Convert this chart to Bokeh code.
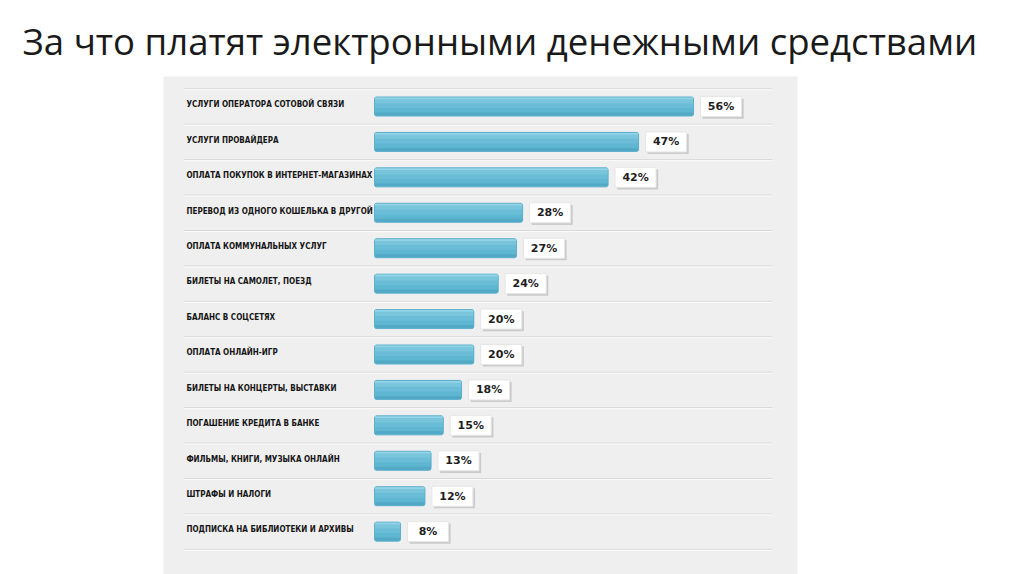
from bokeh.plotting import figure
from bokeh.models import ColumnDataSource, Range1d
from bokeh.transform import dodge
from bokeh.core.properties import value
from bokeh.embed import file_html
from bokeh.resources import INLINE

title_text = "За что платят электронными денежными средствами"

categories = [
    "УСЛУГИ ОПЕРАТОРА СОТОВОЙ СВЯЗИ",
    "УСЛУГИ ПРОВАЙДЕРА",
    "ОПЛАТА ПОКУПОК В ИНТЕРНЕТ-МАГАЗИНАХ",
    "ПЕРЕВОД ИЗ ОДНОГО КОШЕЛЬКА В ДРУГОЙ",
    "ОПЛАТА КОММУНАЛЬНЫХ УСЛУГ",
    "БИЛЕТЫ НА САМОЛЕТ, ПОЕЗД",
    "БАЛАНС В СОЦСЕТЯХ",
    "ОПЛАТА ОНЛАЙН-ИГР",
    "БИЛЕТЫ НА КОНЦЕРТЫ, ВЫСТАВКИ",
    "ПОГАШЕНИЕ КРЕДИТА В БАНКЕ",
    "ФИЛЬМЫ, КНИГИ, МУЗЫКА ОНЛАЙН",
    "ШТРАФЫ И НАЛОГИ",
    "ПОДПИСКА НА БИБЛИОТЕКИ И АРХИВЫ",
]
values = [56, 47, 42, 28, 27, 24, 20, 20, 18, 15, 13, 12, 8]
value_labels = ["56%", "47%", "42%", "28%", "27%", "24%", "20%", "20%", "18%", "15%", "13%", "12%", "8%"]

n = len(categories)
ypos = [n - 1 - i for i in range(n)]

source = ColumnDataSource(dict(y=ypos, cat=categories, value=values, label=value_labels))

W, H = 1024, 574
p = figure(width=W, height=H, output_backend="svg", toolbar_location=None,
           x_axis_type=None, y_axis_type=None,
           x_range=Range1d(-30.83, 73.03), y_range=Range1d(-1.21, 12.847),
           min_border=0, min_border_left=163, min_border_right=W - 797,
           min_border_top=76, min_border_bottom=0)
p.grid.visible = False
p.background_fill_color = "#efefef"
p.border_fill_color = "white"
p.outline_line_color = None

p.title.text = title_text
p.title.align = "left"
p.title.text_font = "Open Sans"
p.title.text_font_style = "normal"
p.title.text_font_size = "36.6px"
p.title.text_color = "#1a1a1a"
p.title.offset = -141
p.title.standoff = 22

# row separators
bounds = [i + 0.5 for i in range(-1, n)]
sep = ColumnDataSource(dict(y=bounds, y2=[b - 0.03 for b in bounds]))
p.segment(x0=-27.55, x1=68.9, y0="y", y1="y", source=sep, line_color="#d8d8d8", line_width=1)
p.segment(x0=-27.55, x1=68.9, y0="y2", y1="y2", source=sep, line_color="#fbfbfb", line_width=1)

# category labels
p.text(x=-27.07, y=dodge("y", 0.05), text="cat", source=source, text_align="left", text_baseline="middle",
       text_font=value("DejaVu Sans Condensed"), text_font_style="bold",
       text_font_size="8px", text_color="#151515")

# bars (layered to suggest gradient)
BAR_START = 3.74
p.hbar(y="y", left=BAR_START, right="value", height=0.536, source=source,
       fill_color="#52a9c6", line_color="#5cb0cc", line_width=1, border_radius=2)
p.hbar(y=dodge("y", 0.04), left=BAR_START + 0.08, right=dodge("value", -0.08), height=0.42, source=source,
       fill_color="#5fb6d1", line_color=None)
p.hbar(y=dodge("y", 0.10), left=BAR_START + 0.08, right=dodge("value", -0.08), height=0.29, source=source,
       fill_color="#6bbdd7", line_color=None)
p.hbar(y=dodge("y", 0.17), left=BAR_START + 0.08, right=dodge("value", -0.08), height=0.16, source=source,
       fill_color="#78c5dc", line_color=None)
p.hbar(y=dodge("y", 0.23), left=BAR_START + 0.08, right=dodge("value", -0.08), height=0.05, source=source,
       fill_color="#92d3e5", line_color=None)

# value boxes
p.rect(x=dodge("value", 4.85), y=dodge("y", -0.06), width=41, height=20, width_units="screen",
       height_units="screen", source=source, fill_color="#c2c2c2", line_color=None, fill_alpha=0.8)
p.rect(x=dodge("value", 4.5), y="y", width=41, height=20, width_units="screen",
       height_units="screen", source=source, fill_color="white", line_color="#e6e6e6")
p.text(x=dodge("value", 4.5), y="y", text="label", source=source, text_align="center",
       text_baseline="middle", text_font=value("DejaVu Sans"), text_font_style="bold",
       text_font_size="11px", text_color="#1e1e1e")

open("out.html", "w").write(file_html(p, INLINE))
